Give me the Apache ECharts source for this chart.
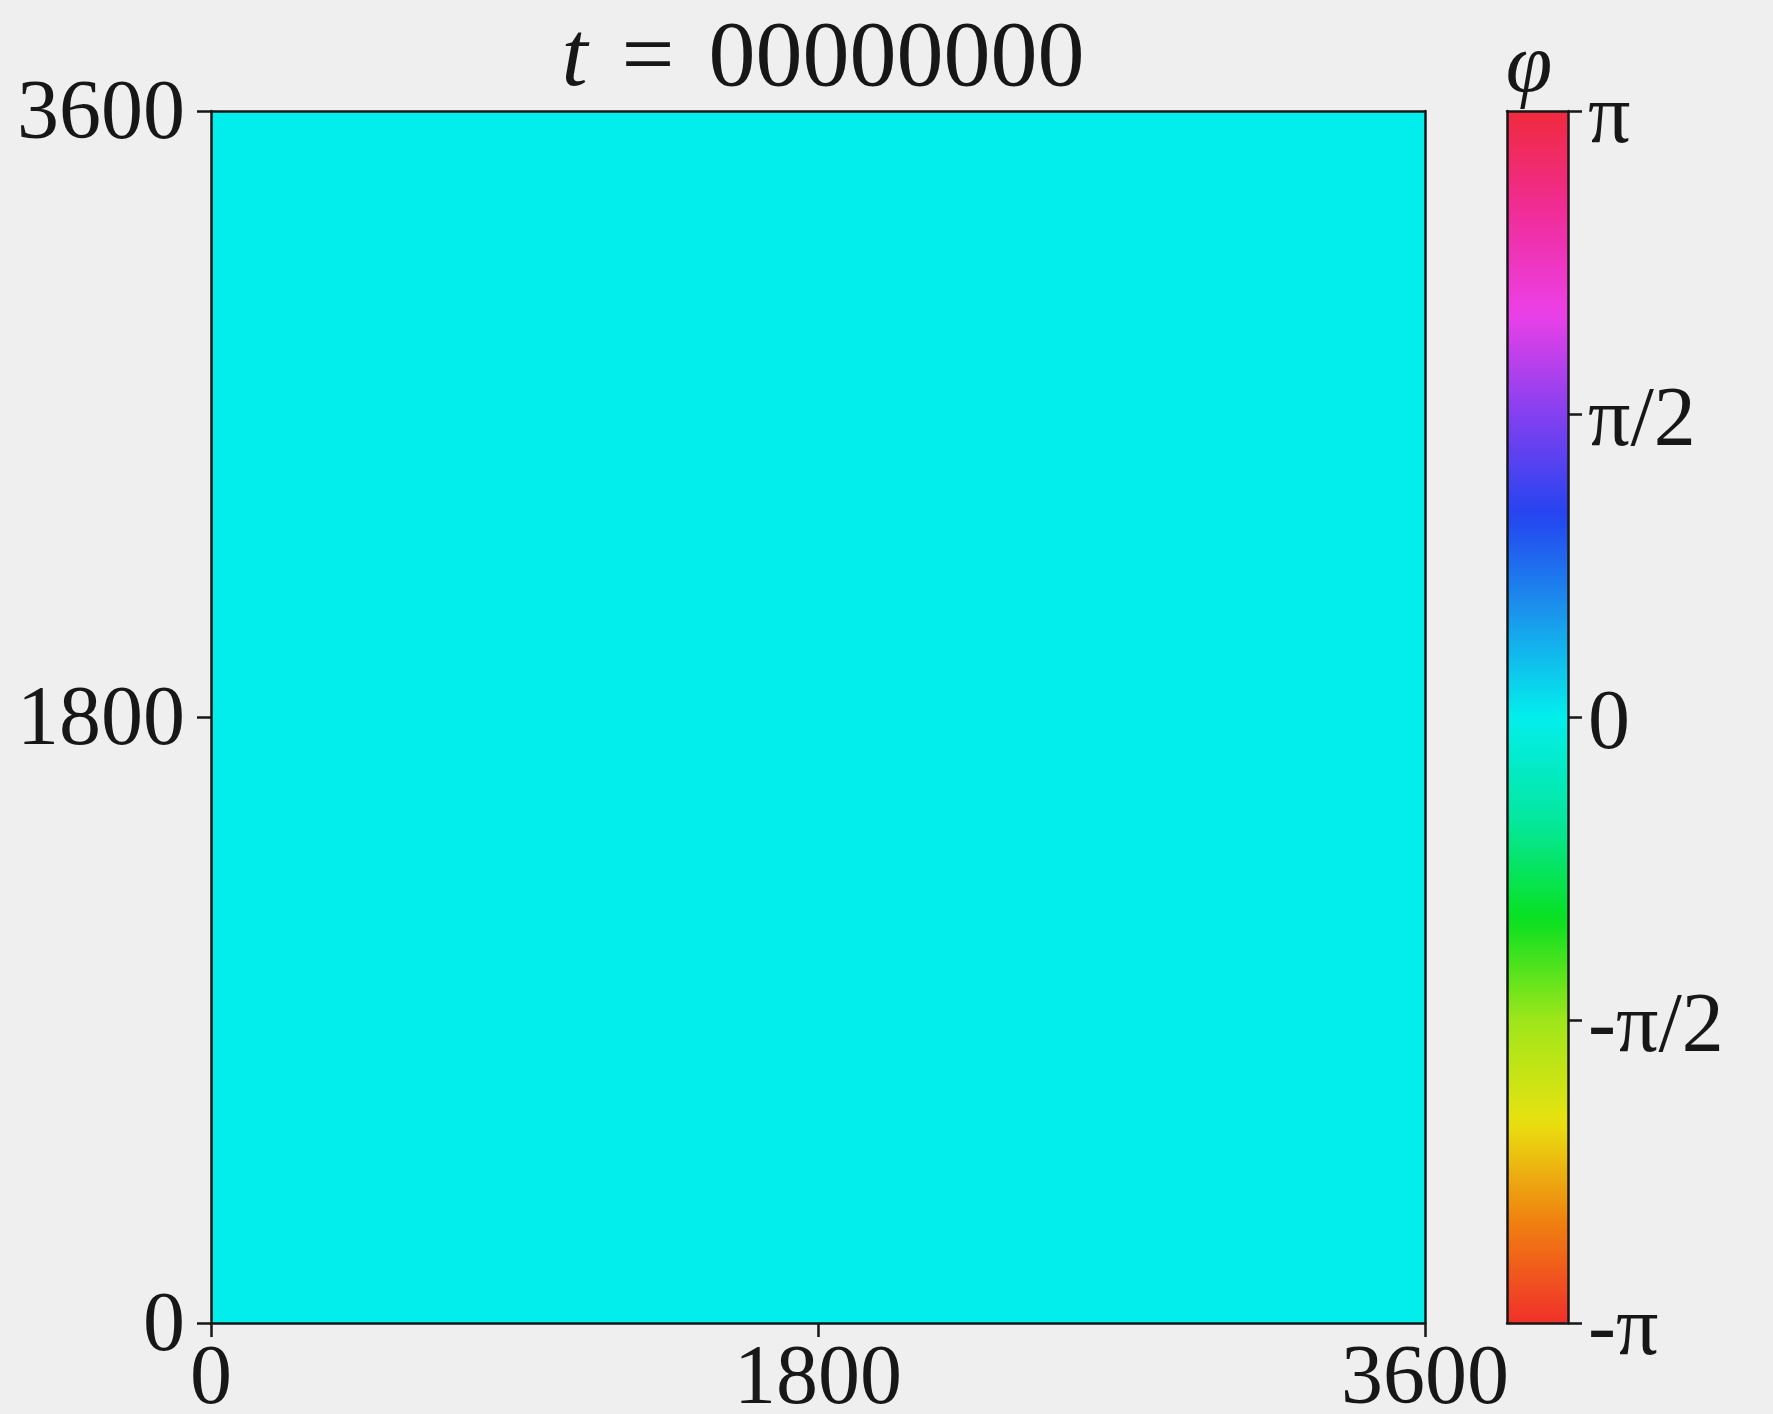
<!DOCTYPE html>
<html>
<head>
<meta charset="utf-8">
<title>Phase field</title>
<script src="https://cdn.jsdelivr.net/npm/echarts@6/dist/echarts.min.js"></script>
<style>
  html, body { margin: 0; padding: 0; background: #efefef; }
  #chart { width: 1773px; height: 1414px; }
</style>
</head>
<body>
<div id="chart"></div>
<script>
// Domain extent and tick labels
const domainMax = 3600;
const spaceTicks = [0, 1800, 3600];

// Phase field φ(x, y) at t = 0: a uniform state, every cell at phase 0
const phaseRows = [
  [0, 0, 0, 0, 0, 0, 0, 0, 0, 0, 0, 0],
  [0, 0, 0, 0, 0, 0, 0, 0, 0, 0, 0, 0],
  [0, 0, 0, 0, 0, 0, 0, 0, 0, 0, 0, 0],
  [0, 0, 0, 0, 0, 0, 0, 0, 0, 0, 0, 0],
  [0, 0, 0, 0, 0, 0, 0, 0, 0, 0, 0, 0],
  [0, 0, 0, 0, 0, 0, 0, 0, 0, 0, 0, 0],
  [0, 0, 0, 0, 0, 0, 0, 0, 0, 0, 0, 0],
  [0, 0, 0, 0, 0, 0, 0, 0, 0, 0, 0, 0],
  [0, 0, 0, 0, 0, 0, 0, 0, 0, 0, 0, 0],
  [0, 0, 0, 0, 0, 0, 0, 0, 0, 0, 0, 0],
  [0, 0, 0, 0, 0, 0, 0, 0, 0, 0, 0, 0],
  [0, 0, 0, 0, 0, 0, 0, 0, 0, 0, 0, 0]
];

// Colour bar ticks and their labels
const phaseTicks = [-Math.PI, -Math.PI / 2, 0, Math.PI / 2, Math.PI];
const phaseTickLabels = ['-π', '-π/2', '0', 'π/2', 'π'];

// Cyclic hue map from -π to π
const phaseColors = [
  '#f0302a', '#f08010', '#e8e210', '#9ee61a', '#08e020', '#04e8a0',
  '#02eeec', '#1a98ec', '#2444f0', '#8440f0', '#ec40e8', '#f02c98', '#f02a3c'
];

// Frame time shown in the heading
const frameTime = '00000000';

// Build cell records [x0, y0, phase] from the rows (row 0 is the bottom row)
const nRows = phaseRows.length;
const nCols = phaseRows[0].length;
const cellW = domainMax / nCols;
const cellH = domainMax / nRows;
const cells = [];
phaseRows.forEach((row, j) => {
  row.forEach((v, i) => cells.push([i * cellW, j * cellH, v]));
});

const ink = '#171717';
const serif = 'Liberation Serif';
const tickFont = 84;
const titleFont = 94;

function phaseLabel(v) {
  for (let k = 0; k < phaseTicks.length; k++) {
    if (Math.abs(v - phaseTicks[k]) < 1e-6) return '{lo|' + phaseTickLabels[k] + '}';
  }
  return '';
}

const chart = echarts.init(document.getElementById('chart'), null, { renderer: 'canvas' });

const lineStyle = { color: ink, width: 2.5 };

chart.setOption({
  backgroundColor: '#efefef',
  animation: false,
  title: [
    {
      text: '{it|t}{eq|=}{num|' + frameTime + '}',
      left: 818,
      top: 8,
      textAlign: 'center',
      textStyle: {
        fontFamily: serif,
        fontSize: titleFont,
        fontWeight: 'normal',
        color: ink,
        rich: {
          it: { fontFamily: serif, fontSize: titleFont, fontStyle: 'italic', color: ink },
          eq: { fontFamily: serif, fontSize: titleFont, color: ink, padding: [0, 34, 0, 34] },
          num: { fontFamily: serif, fontSize: titleFont, color: ink }
        }
      }
    },
    {
      text: 'φ',
      left: 1524,
      top: 22,
      textAlign: 'center',
      textStyle: { fontFamily: serif, fontSize: 84, fontStyle: 'italic', fontWeight: 'normal', color: ink }
    }
  ],
  grid: [
    { left: 211, top: 111, width: 1214, height: 1212, containLabel: false, outerBoundsMode: 'none' },
    { left: 1507, top: 111, width: 61, height: 1212, containLabel: false, outerBoundsMode: 'none' }
  ],
  xAxis: [
    {
      type: 'value', gridIndex: 0, min: 0, max: domainMax, interval: 1800, position: 'bottom', z: 10,
      splitLine: { show: false },
      axisLine: { show: true, onZero: false, lineStyle },
      axisTick: { show: true, inside: false, length: 14, lineStyle },
      axisLabel: {
        show: true, margin: 16, fontFamily: serif, fontSize: tickFont, color: ink,
        customValues: spaceTicks, formatter: v => String(v)
      }
    },
    {
      type: 'value', gridIndex: 0, min: 0, max: domainMax, position: 'top', z: 10,
      splitLine: { show: false }, axisTick: { show: false }, axisLabel: { show: false },
      axisLine: { show: true, onZero: false, lineStyle }
    },
    {
      type: 'value', gridIndex: 1, min: 0, max: 1, position: 'bottom', z: 10,
      splitLine: { show: false }, axisTick: { show: false }, axisLabel: { show: false },
      axisLine: { show: true, onZero: false, lineStyle }
    },
    {
      type: 'value', gridIndex: 1, min: 0, max: 1, position: 'top', z: 10,
      splitLine: { show: false }, axisTick: { show: false }, axisLabel: { show: false },
      axisLine: { show: true, onZero: false, lineStyle }
    }
  ],
  yAxis: [
    {
      type: 'value', gridIndex: 0, min: 0, max: domainMax, interval: 1800, position: 'left', z: 10,
      splitLine: { show: false },
      axisLine: { show: true, onZero: false, lineStyle },
      axisTick: { show: true, inside: false, length: 14, lineStyle },
      axisLabel: {
        show: true, margin: 26, fontFamily: serif, fontSize: tickFont, color: ink,
        customValues: spaceTicks, formatter: v => '{lo|' + v + '}',
        rich: { lo: { fontFamily: serif, fontSize: tickFont, color: ink, padding: [10, 0, 0, 0] } }
      }
    },
    {
      type: 'value', gridIndex: 0, min: 0, max: domainMax, position: 'right', z: 10,
      splitLine: { show: false }, axisTick: { show: false }, axisLabel: { show: false },
      axisLine: { show: true, onZero: false, lineStyle }
    },
    {
      type: 'value', gridIndex: 1, min: -Math.PI, max: Math.PI, position: 'right', z: 10,
      splitLine: { show: false },
      axisLine: { show: true, onZero: false, lineStyle },
      axisTick: { show: true, inside: false, length: 14, lineStyle, customValues: phaseTicks },
      axisLabel: {
        show: true, margin: 20, fontFamily: serif, fontSize: tickFont, color: ink,
        customValues: phaseTicks, formatter: phaseLabel,
        rich: { lo: { fontFamily: serif, fontSize: tickFont, color: ink, padding: [18, 0, 0, 0] } }
      }
    },
    {
      type: 'value', gridIndex: 1, min: -Math.PI, max: Math.PI, position: 'left', z: 10,
      splitLine: { show: false }, axisTick: { show: false }, axisLabel: { show: false },
      axisLine: { show: true, onZero: false, lineStyle }
    }
  ],
  visualMap: {
    type: 'continuous',
    seriesIndex: 0,
    dimension: 2,
    min: -Math.PI,
    max: Math.PI,
    orient: 'vertical',
    left: 1507,
    top: 111,
    itemWidth: 61,
    itemHeight: 1212,
    padding: 0,
    calculable: false,
    hoverLink: false,
    text: null,
    showLabel: false,
    inRange: { color: phaseColors }
  },
  series: [
    {
      type: 'custom',
      coordinateSystem: 'cartesian2d',
      xAxisIndex: 0,
      yAxisIndex: 0,
      clip: true,
      z: 1,
      data: cells,
      encode: { x: 0, y: 1 },
      renderItem: function (params, api) {
        const x0 = api.value(0);
        const y0 = api.value(1);
        const topLeft = api.coord([x0, y0 + cellH]);
        const size = api.size([cellW, cellH]);
        const color = api.visual('color');
        return {
          type: 'rect',
          shape: { x: topLeft[0], y: topLeft[1], width: size[0] + 0.5, height: size[1] + 0.5 },
          style: { fill: color, stroke: color, lineWidth: 1 }
        };
      }
    }
  ]
});
</script>
</body>
</html>
